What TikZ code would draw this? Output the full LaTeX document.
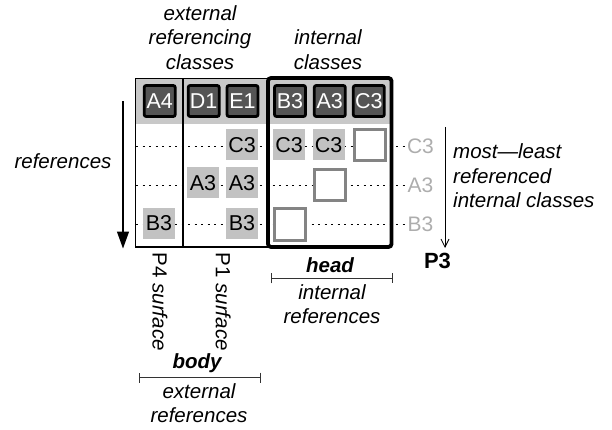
\documentclass[tikz,border=0pt]{standalone}
\usepackage{fontspec}
\setmainfont{Liberation Sans}
\usetikzlibrary{arrows.meta}
\definecolor{band}{HTML}{C8C8C8}
\definecolor{cellgrey}{HTML}{C2C2C2}
\definecolor{hdrgrey}{HTML}{555555}
\definecolor{sqgrey}{HTML}{848484}
\definecolor{lblgrey}{HTML}{ADADAD}
\begin{document}
\begin{tikzpicture}[x=1pt,y=-1pt,
  lbl/.style={font=\fontsize{20.5}{24.5}\selectfont\itshape, align=center, inner sep=0pt},
  hdr/.style={draw=black, line width=2.8pt, fill=hdrgrey, text=white, minimum width=31pt, minimum height=31pt, rounded corners=2pt, inner sep=0pt, font=\fontsize{21.5}{24}\selectfont},
  cellbox/.style={fill=cellgrey, minimum width=32pt, minimum height=31pt, inner sep=0pt, font=\fontsize{21.5}{24}\selectfont},
  sqbox/.style={draw=sqgrey, fill=white, line width=3pt, minimum width=31pt, minimum height=31pt, inner sep=0pt},
  greylbl/.style={text=lblgrey, inner sep=1pt, font=\fontsize{21}{24}\selectfont},
  rowline/.style={line width=0.9pt, dash pattern=on 2pt off 4.5pt},
  bracket/.style={line width=1.1pt, draw=black!80, {Bar[width=10pt]}-{Bar[width=10pt]}}
]
\useasboundingbox (0,0) rectangle (612,430);

% header band and frames
\fill[band] (135.5,78.5) rectangle (392,124);
\draw[line width=1.2pt] (135.5,78.5) rectangle (268,247);
\coordinate (vtop) at (183,78.5);
\coordinate (vbot) at (183,247);
\draw[line width=1.2pt] (vtop) -- (vbot);

% right row labels
\node[greylbl] (lC3) at (420.5,146) {C3};
\node[greylbl] (lA3) at (420.5,185) {A3};
\node[greylbl] (lB3) at (420.5,224) {B3};

% row dashed lines
\coordinate (r1l) at (136,146);
\coordinate (r2l) at (136,185);
\coordinate (r3l) at (136,224);
\draw[rowline] (r1l) -- (lC3.west);
\draw[rowline] (r2l) -- (lA3.west);
\draw[rowline] (r3l) -- (lB3.west);

% header boxes
\node[hdr] (hA4) at (159.7,101) {A4};
\node[hdr] (hD1) at (203.7,101) {D1};
\node[hdr] (hE1) at (242.5,101) {E1};
\node[hdr] (hB3) at (290,101) {B3};
\node[hdr] (hA3) at (329.8,101) {A3};
\node[hdr] (hC3) at (368.8,101) {C3};

% row 1
\node[cellbox] (c11) at (242,145) {C3};
\node[cellbox] (c12) at (289,145) {C3};
\node[cellbox] (c13) at (328.5,145) {C3};
\node[sqbox] (s1) at (370,145) {};
% row 2
\node[cellbox] (c21) at (203,183) {A3};
\node[cellbox] (c22) at (242,183) {A3};
\node[sqbox] (s2) at (330,185.5) {};
% row 3
\node[cellbox] (c31) at (159,223.5) {B3};
\node[cellbox] (c32) at (242,223.5) {B3};
\node[sqbox] (s3) at (289.5,224.5) {};

% head frame
\draw[line width=3.8pt, rounded corners=3pt] (268,78) rectangle (391.5,247);

% left arrow
\coordinate (la1) at (123,101.5);
\coordinate (la2) at (123,248.5);
\draw[line width=1.3pt, -{Triangle[width=12pt,length=17pt]}] (la1) -- (la2);
\node[lbl] (refs) at (63,161) {references};

% right arrow
\coordinate (ra1) at (445,127);
\coordinate (ra2) at (445,248);
\draw[line width=0.8pt, -{Straight Barb[width=8pt,length=8pt]}] (ra1) -- (ra2);
\node[font=\fontsize{22}{26}\selectfont\bfseries, inner sep=0pt] (p3) at (437.5,261) {P3};
\node[lbl, align=left, anchor=west] (mostleast) at (453,176) {most—least\\referenced\\internal classes};

% top labels
\node[lbl] (extref) at (200,37.5) {external\\referencing\\classes};
\node[lbl] (intcls) at (328,49.5) {internal\\classes};

% bottom rotated labels
\node[lbl, font=\fontsize{20.5}{24.5}\selectfont, rotate=-90, anchor=west] (p4s) at (160,252.5) {P4 \textit{surface}};
\node[lbl, font=\fontsize{20.5}{24.5}\selectfont, rotate=-90, anchor=west] (p1s) at (223.3,252.5) {P1 \textit{surface}};

% head
\node[lbl, font=\fontsize{20.5}{24.5}\selectfont\bfseries\itshape] (head) at (330,265) {head};
\coordinate (hb1) at (270.7,278.3);
\coordinate (hb2) at (392.7,278.3);
\draw[bracket] (hb1) -- (hb2);
\node[lbl] (intrefs) at (332,304) {internal\\references};

% body
\node[lbl, font=\fontsize{20.5}{24.5}\selectfont\bfseries\itshape] (body) at (197,363) {body};
\coordinate (bb1) at (139,377.7);
\coordinate (bb2) at (261,377.7);
\draw[bracket] (bb1) -- (bb2);
\node[lbl] (extrefs) at (199,403) {external\\references};
\end{tikzpicture}
\end{document}
